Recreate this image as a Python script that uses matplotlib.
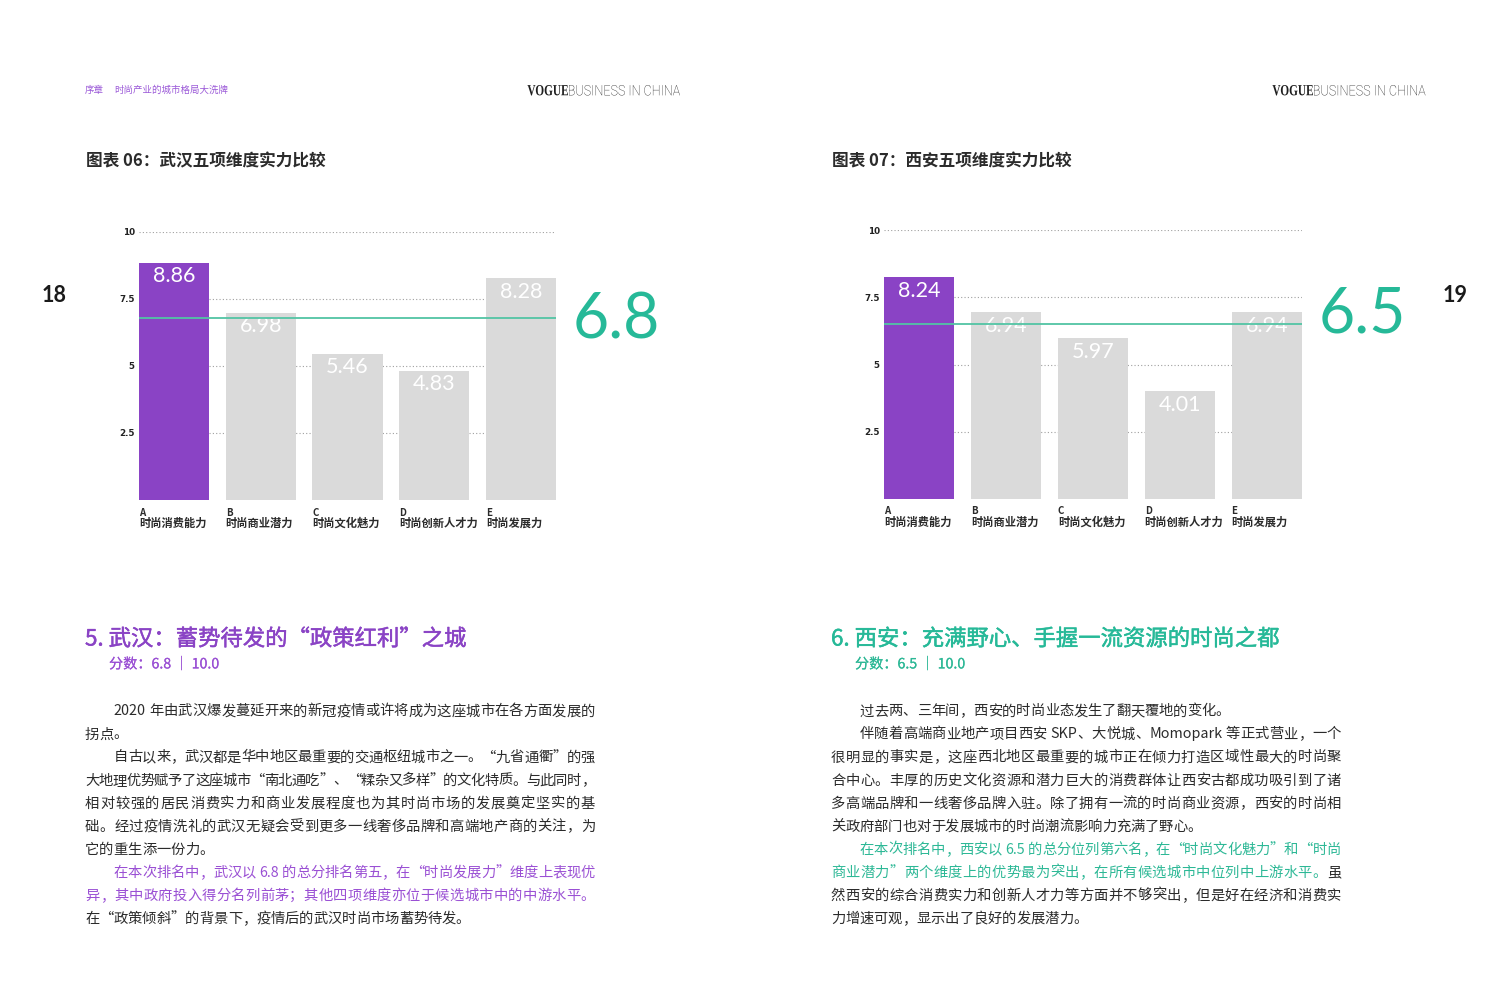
import re
import matplotlib
matplotlib.use('Agg')
import matplotlib.pyplot as plt
import matplotlib.patheffects as pe
from matplotlib.font_manager import FontProperties
from matplotlib.textpath import TextPath
from matplotlib.patches import PathPatch
from matplotlib.transforms import Affine2D

W, H = 1511, 1001
CJK = ['Noto Sans CJK SC', 'DejaVu Sans']
NUM = ['Lato', 'DejaVu Sans']

PURPLE = '#8a43c5'
PURPLE_TXT = '#9a50d4'
TEAL = '#26b998'
TEAL_TXT = '#2db896'
GREEN_LINE = '#52c4a4'
GRAY = '#dadada'
INK = '#2b2b2b'

# Chart data
letters = ['A', 'B', 'C', 'D', 'E']
dimensions = ['时尚消费能力', '时尚商业潜力', '时尚文化魅力', '时尚创新人才力', '时尚发展力']
wuhan_scores = [8.86, 6.98, 5.46, 4.83, 8.28]
xian_scores = [8.24, 6.94, 5.97, 4.01, 6.94]
wuhan_total = 6.8
xian_total = 6.5
max_score = 10.0
y_ticks = [2.5, 5, 7.5, 10]
y_tick_labels = ['2.5', '5', '7.5', '10']

# Body text, one entry per printed line: (segments, indented, justified)
wuhan_lines = [
    ([('2020 年由武汉爆发蔓延开来的新冠疫情或许将成为这座城市在各方面发展的', INK)], True, True),
    ([('拐点。', INK)], False, False),
    ([('自古以来，武汉都是华中地区最重要的交通枢纽城市之一。“九省通衢”的强', INK)], True, True),
    ([('大地理优势赋予了这座城市“南北通吃”、“糅杂又多样”的文化特质。与此同时，', INK)], False, True),
    ([('相对较强的居民消费实力和商业发展程度也为其时尚市场的发展奠定坚实的基', INK)], False, True),
    ([('础。经过疫情洗礼的武汉无疑会受到更多一线奢侈品牌和高端地产商的关注，为', INK)], False, True),
    ([('它的重生添一份力。', INK)], False, False),
    ([('在本次排名中，武汉以 6.8 的总分排名第五，在“时尚发展力”维度上表现优', PURPLE_TXT)], True, True),
    ([('异，其中政府投入得分名列前茅；其他四项维度亦位于候选城市中的中游水平。', PURPLE_TXT)], False, True),
    ([('在“政策倾斜”的背景下，疫情后的武汉时尚市场蓄势待发。', INK)], False, False),
]
xian_lines = [
    ([('过去两、三年间，西安的时尚业态发生了翻天覆地的变化。', INK)], True, False),
    ([('伴随着高端商业地产项目西安 SKP、大悦城、Momopark 等正式营业，一个', INK)], True, True),
    ([('很明显的事实是，这座西北地区最重要的城市正在倾力打造区域性最大的时尚聚', INK)], False, True),
    ([('合中心。丰厚的历史文化资源和潜力巨大的消费群体让西安古都成功吸引到了诸', INK)], False, True),
    ([('多高端品牌和一线奢侈品牌入驻。除了拥有一流的时尚商业资源，西安的时尚相', INK)], False, True),
    ([('关政府部门也对于发展城市的时尚潮流影响力充满了野心。', INK)], False, False),
    ([('在本次排名中，西安以 6.5 的总分位列第六名，在“时尚文化魅力”和“时尚', TEAL_TXT)], True, True),
    ([('商业潜力”两个维度上的优势最为突出，在所有候选城市中位列中上游水平。', TEAL_TXT), ('虽', INK)], False, True),
    ([('然西安的综合消费实力和创新人才力等方面并不够突出，但是好在经济和消费实', INK)], False, True),
    ([('力增速可观，显示出了良好的发展潜力。', INK)], False, False),
]

fig = plt.figure(figsize=(W / 100, H / 100), dpi=100)
bg = fig.add_axes([0, 0, 1, 1])
bg.set_xlim(0, W)
bg.set_ylim(H, 0)
bg.axis('off')
renderer = fig.canvas.get_renderer()


def draw_chart(box, scores, total, total_offset):
    left, right, top, bottom = box
    ax = fig.add_axes([left / W, 1 - bottom / H, (right - left) / W, (bottom - top) / H])
    xs = list(range(len(scores)))
    bar_w = 0.81
    ax.bar(xs, scores, width=bar_w, color=[PURPLE] + [GRAY] * (len(scores) - 1), zorder=2)
    ax.set_xlim(-bar_w / 2, xs[-1] + bar_w / 2)
    ax.set_ylim(0, max_score)
    for t in y_ticks:
        ax.axhline(t, color='#a0a0a0', lw=0.8, ls=(0, (1, 2)), zorder=1)
    ax.axhline(total, color=GREEN_LINE, lw=1.3, zorder=4)
    ax.set_yticks(y_ticks, y_tick_labels, fontsize=6.3, fontweight='bold',
                  family=['DejaVu Sans'], color='#222222')
    ax.tick_params(axis='y', length=0, pad=3)
    ax.set_xticks([])
    for sp in ax.spines.values():
        sp.set_visible(False)
    ax.patch.set_visible(False)
    for x, v, letter, name in zip(xs, scores, letters, dimensions):
        ax.annotate(f'{v:.2f}', (x, v), xytext=(0, -13.5), textcoords='offset pixels',
                    ha='center', va='center', color='white', fontsize=15.5, family=NUM, zorder=3)
        ax.annotate(letter, (x - bar_w / 2, 0), xytext=(0, -15.5), textcoords='offset pixels',
                    ha='left', va='baseline', fontsize=7, family=CJK, weight='bold',
                    color=INK, annotation_clip=False)
        ax.annotate(name, (x - bar_w / 2, 0), xytext=(0, -27), textcoords='offset pixels',
                    ha='left', va='baseline', fontsize=8.1, family=CJK, weight='bold',
                    color=INK, annotation_clip=False)
    ax.annotate(f'{total:.1f}', (1, total), xycoords=ax.get_yaxis_transform(),
                xytext=total_offset, textcoords='offset pixels', ha='left', va='center',
                fontsize=45, color=TEAL, family=NUM, annotation_clip=False)
    return ax


body_prop = FontProperties(family=CJK, size=10.3)
em = 10.3 * 100 / 72
width_cache = {}


def advance(tok):
    # advance width of a token, measured between two ideographs
    if tok not in width_cache:
        w1 = renderer.get_text_width_height_descent('中' + tok + '中', body_prop, ismath=False)[0]
        w0 = renderer.get_text_width_height_descent('中中', body_prop, ismath=False)[0]
        width_cache[tok] = w1 - w0
    return width_cache[tok]


def draw_body(lines, x0, x1, y0, step):
    for i, (segments, indent, justify) in enumerate(lines):
        tokens = []
        for s, c in segments:
            for t in re.findall(r'[A-Za-z0-9.]+|.', s):
                tokens.append((t, c))
        start = x0 + 2 * em if indent else x0
        widths = [advance(t) for t, c in tokens]
        gap = (x1 - start - sum(widths)) / (len(tokens) - 1) if justify else 0
        x = start
        y = y0 + i * step + 5.4
        for (t, c), w in zip(tokens, widths):
            if t != ' ':
                bg.text(x, y, t, fontproperties=body_prop, color=c, ha='left', va='baseline')
            x += w + gap


def draw_logo(x_left, x_split, x_right, y_base, cap_h):
    parts = [('VOGUE', FontProperties(family='Liberation Serif', weight='bold'), x_left, x_split),
             ('BUSINESS IN CHINA', FontProperties(family='Roboto', weight='light'), x_split + 1, x_right)]
    for s, prop, xa, xb in parts:
        tp = TextPath((0, 0), s, size=10, prop=prop)
        ext = tp.get_extents()
        tr = (Affine2D().translate(-ext.x0, -ext.y0)
              .scale((xb - xa) / ext.width, -cap_h / ext.height)
              .translate(xa, y_base) + bg.transData)
        bg.add_patch(PathPatch(tp, transform=tr, facecolor='#1e1e1e', lw=0))


# Running headers
bg.text(85, 92.6, '序章', fontsize=6.8, family=CJK, color='#9b59d8', va='baseline')
bg.text(114, 92.6, '时尚产业的城市格局大洗牌', fontsize=6.8, family=CJK, color='#9b59d8', va='baseline')
draw_logo(527.5, 568, 680, 95.5, 10.5)
draw_logo(1272.5, 1313, 1425.5, 95.5, 10.5)

# Page numbers
bg.text(54.5, 295, '18', fontsize=15.5, family=NUM, weight='bold', color='#1a1a1a', ha='center', va='center')
bg.text(1455.5, 295, '19', fontsize=15.5, family=NUM, weight='bold', color='#1a1a1a', ha='center', va='center')

# Chart titles
bg.text(86, 166.8, '图表 06：武汉五项维度实力比较', fontsize=12, family=CJK, weight='bold', color=INK, va='baseline')
bg.text(832, 166.8, '图表 07：西安五项维度实力比较', fontsize=12, family=CJK, weight='bold', color=INK, va='baseline')

# Charts
draw_chart((139, 556, 232, 500), wuhan_scores, wuhan_total, (17, -3))
draw_chart((884, 1302, 230, 499), xian_scores, xian_total, (17, 10))

# Section headings (regular weight thickened a little to a medium look)
bg.text(85, 645.5, '5. 武汉：蓄势待发的“政策红利”之城', fontsize=16.1, family=CJK, color=PURPLE, va='baseline',
        path_effects=[pe.withStroke(linewidth=0.35, foreground=PURPLE)])
bg.text(109, 668.4, f'分数：{wuhan_total} ｜ {max_score}', fontsize=10.2, family=CJK, color=PURPLE_TXT, va='baseline',
        path_effects=[pe.withStroke(linewidth=0.12, foreground=PURPLE_TXT)])
bg.text(831, 645.5, '6. 西安：充满野心、手握一流资源的时尚之都', fontsize=16.1, family=CJK, color=TEAL, va='baseline',
        path_effects=[pe.withStroke(linewidth=0.35, foreground=TEAL)])
bg.text(855, 668.4, f'分数：{xian_total} ｜ {max_score}', fontsize=10.2, family=CJK, color=TEAL_TXT, va='baseline',
        path_effects=[pe.withStroke(linewidth=0.12, foreground=TEAL_TXT)])

# Body text
draw_body(wuhan_lines, 85, 595, 710, 23.05)
draw_body(xian_lines, 831, 1341, 710, 23.05)

fig.savefig('out.png', dpi=100, facecolor='white')
